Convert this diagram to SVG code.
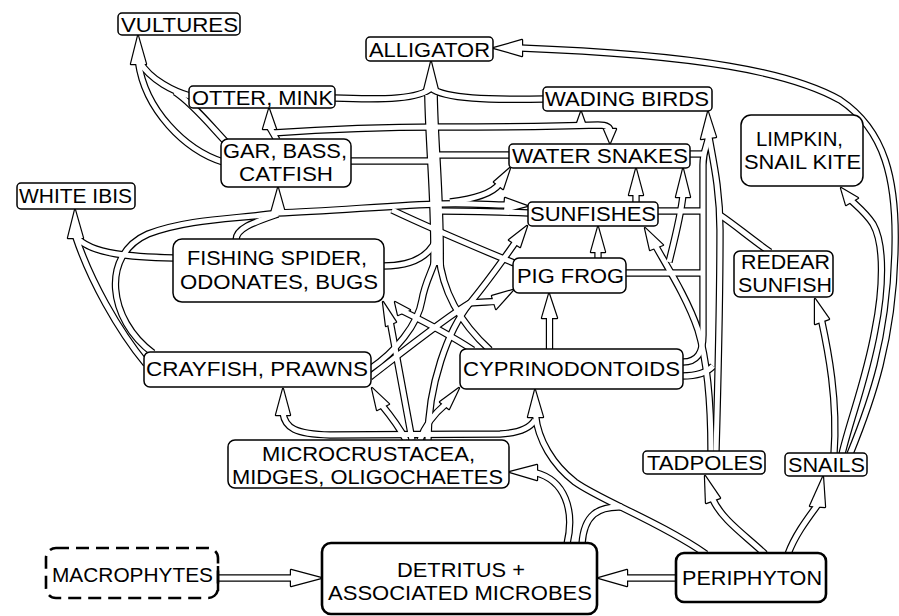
<svg xmlns="http://www.w3.org/2000/svg" xmlns:xlink="http://www.w3.org/1999/xlink" width="899" height="616" viewBox="0 0 899 616">
<style>
text{font-family:"Liberation Sans",Arial,Helvetica,sans-serif;font-size:20.5px;fill:#000}
.n rect{fill:#fff;stroke:#000;stroke-width:1.5}
.n.k rect{stroke-width:2.6}
.n.d rect{stroke-width:2.6;stroke-dasharray:13 7}
#connectors{fill:none}
.ol use{stroke:#000;stroke-width:7.4}
.ol use.w{stroke-width:13.8}
.fl use{stroke:#fff;stroke-width:5}
.fl use.w{stroke-width:11.4}
.ao use{fill:#000;stroke:#000;stroke-width:2.4;stroke-linejoin:round}
.af use{fill:#fff;stroke:none}
</style>
<defs>
<path id="c1" d="M223,162 C185,150 145,110 138.4,62"/>
<path id="c2" d="M190,96 C175,92 150,80 140,62"/>
<path id="c3" d="M226,142 C210,125 192,103 175,92"/>
<path id="c4" d="M334,98 C385,100 420,99 431,88"/>
<path id="c5" d="M544,99 C490,100 445,99 431,88"/>
<path id="c6" d="M431,95 C432,150 438,200 437,265"/>
<path id="c7" d="M350,161 L432,161"/>
<path id="c8" d="M510,155 L436,155"/>
<path id="c9" d="M277,140 L269.5,127"/>
<path id="c10" d="M272,133 C330,129 400,127 440,127 C520,127 570,126 598,125 C606,125 610,127 610,131"/>
<path id="c10b" d="M581,127 L581,124"/>
<path id="c11" d="M153,353 C108,320 100,255 148,234 C190,218 240,219 278,213"/>
<path id="c12" d="M236,240 C236,228 255,222 278,214"/>
<path id="c13" d="M278,213 C330,211 400,205 440,204 C470,203 490,205 506.5,205"/>
<path id="c14" d="M450,202 C475,199 492,194 499.6,183.8"/>
<path id="c15" d="M529,213 C500,212 470,211 440,211"/>
<path id="c16" d="M174,258 C135,257 90,255 75.5,236"/>
<path id="c17" d="M146,364 C118,330 90,280 75.5,236"/>
<path id="c18" d="M514,263 C480,249 430,228 392,210"/>
<path id="c19" d="M383,266 C410,266 428,258 436,240"/>
<path id="c20" d="M370,369 C395,352 418,325 422,300 C425,282 432,272 437,255"/>
<path id="c21" d="M370,377 C405,350 445,318 470,303"/>
<path id="c22" d="M470,303 C485,285 503,260 515.7,241.9"/>
<path id="c23" d="M470,303 C480,302 488,302 495.7,301.4"/>
<path id="c24" d="M428,440 C428,385 448,330 470,303"/>
<path id="c25" d="M412,440 C405,400 397,360 390.3,322.1"/>
<path id="c26" d="M406,440 C398,425 390,415 382,405.3"/>
<path id="c27" d="M420,440 C425,425 435,413 445.8,404"/>
<path id="c28" d="M473,350 C450,335 425,322 402.7,311"/>
<path id="c29" d="M490,350 C468,330 443,300 439,255"/>
<path id="c30" d="M549.5,350 L549.5,316"/>
<path id="c31" d="M598,259 L598,250"/>
<path id="c32" d="M636,203 L636,193"/>
<path id="c33" d="M683,362 C698,362 703,352 703,335 L703,165 C703,150 708,145 708.5,136"/>
<path id="c34" d="M625,273 L703,273"/>
<path id="c35" d="M657,211 L703,211"/>
<path id="c36" d="M689,154 L703,154"/>
<path id="c37" d="M716,452 C718,380 720,300 720,230 C720,190 713,160 709,137"/>
<path id="c38" d="M770,252 C750,238 735,225 720,215"/>
<path id="c39" d="M711,452 C711,400 707,360 698,330 C688,300 668,268 655.5,245.8"/>
<path id="c40" d="M669,262 C675,238 681,215 683,195"/>
<path id="c41" d="M682,376 C695,376 706,374 713,366"/>
<path id="c42" d="M788,554 C795,535 808,518 817.9,504.5"/>
<path id="c43" d="M765,554 C745,535 722,520 712.4,498.6"/>
<path id="c44" d="M706,554 C660,522 600,500 575,482 C553,465 538,440 535.5,415"/>
<path id="c45" d="M582,544 C584,515 598,506 622,507"/>
<path id="c46" d="M567,544 C575,510 565,480 535,472.5"/>
<path id="c47" d="M283,413 C285,428 295,434 330,435 L500,434 C520,433 530,428 535,420"/>
<path id="c48" d="M218,578 L293,578"/>
<path id="c49" d="M677,578 L625,578"/>
<path id="c50" d="M834,454 C838,400 828,350 821.4,319.6"/>
<path id="c51" d="M842,454 C850,420 866,380 875,330 C883,290 885,245 873,224 C866,213 857,206 850.7,200"/>
<path id="c52" d="M850,454 C872,400 893,340 895,250 C897,180 885,130 840,100 C790,72 700,55 520,48"/>
<polygon id="a1" points="138,36 131,64 146,64"/>
<polygon id="a2" points="431,62 424,90 438,90"/>
<polygon id="a3" points="494,48 522,40 522,56"/>
<polygon id="a4" points="269,109 263,129 276,129"/>
<polygon id="a5" points="278,188 271,213 285,213"/>
<polygon id="a6" points="75,210 68,238 83,238"/>
<polygon id="a7" points="510,168 494,182 503,189"/>
<polygon id="a8" points="527,206 505,198 504,212"/>
<polygon id="a9" points="636,169 629,195 643,195"/>
<polygon id="a10" points="598,227 591,252 605,252"/>
<polygon id="a11" points="683,169 676,197 690,197"/>
<polygon id="a12" points="708,112 701,139 716,137"/>
<polygon id="a13" points="581,112 576,126 586,126"/>
<polygon id="a14" points="610,143 604,129 616,129"/>
<polygon id="a15" points="841,188 846,205 858,198"/>
<polygon id="a16" points="645,228 650,250 663,245"/>
<polygon id="a17" points="815,299 815,324 829,319"/>
<polygon id="a18" points="513,290 492,296 496,309"/>
<polygon id="a19" points="527,226 509,240 520,247"/>
<polygon id="a20" points="395,302 398,315 410,310"/>
<polygon id="a21" points="383,302 386,326 396,322"/>
<polygon id="a22" points="372,388 377,410 389,404"/>
<polygon id="a23" points="283,389 276,415 290,415"/>
<polygon id="a24" points="535,390 528,417 543,417"/>
<polygon id="a25" points="510,472 537,465 537,480"/>
<polygon id="a26" points="705,476 706,503 720,498"/>
<polygon id="a27" points="823,477 810,506 825,507"/>
<polygon id="a28" points="599,578 627,570 627,586"/>
<polygon id="a29" points="321,578 291,570 291,586"/>
<polygon id="a31" points="549,294 542,318 557,318"/>
<polygon id="a33" points="459,388 440,402 449,409"/>
</defs>

<g id="connectors">
<g class="ol">
<use href="#c1"/><use href="#c2"/><use href="#c3"/><use href="#c4"/><use href="#c5"/><use href="#c6" class="w"/><use href="#c7"/><use href="#c8"/><use href="#c9"/><use href="#c10"/><use href="#c10b"/><use href="#c11"/><use href="#c12"/><use href="#c13"/><use href="#c14"/><use href="#c15"/><use href="#c16"/><use href="#c17"/><use href="#c18"/><use href="#c19"/><use href="#c20"/><use href="#c21"/><use href="#c22"/><use href="#c23"/><use href="#c24"/><use href="#c25"/><use href="#c26"/><use href="#c27"/><use href="#c28"/><use href="#c29"/><use href="#c30"/><use href="#c31"/><use href="#c32"/><use href="#c33"/><use href="#c34"/><use href="#c35"/><use href="#c36"/><use href="#c37"/><use href="#c38"/><use href="#c39"/><use href="#c40"/><use href="#c41"/><use href="#c42"/><use href="#c43"/><use href="#c44"/><use href="#c45"/><use href="#c46"/><use href="#c47"/><use href="#c48"/><use href="#c49"/><use href="#c50"/><use href="#c51"/><use href="#c52"/>
</g>
<g class="ao">
<use href="#a1"/><use href="#a2"/><use href="#a3"/><use href="#a4"/><use href="#a5"/><use href="#a6"/><use href="#a7"/><use href="#a8"/><use href="#a9"/><use href="#a10"/><use href="#a11"/><use href="#a12"/><use href="#a13"/><use href="#a14"/><use href="#a15"/><use href="#a16"/><use href="#a17"/><use href="#a18"/><use href="#a19"/><use href="#a20"/><use href="#a21"/><use href="#a22"/><use href="#a23"/><use href="#a24"/><use href="#a25"/><use href="#a26"/><use href="#a27"/><use href="#a28"/><use href="#a29"/><use href="#a31"/><use href="#a33"/>
</g>
<g class="fl">
<use href="#c1"/><use href="#c2"/><use href="#c3"/><use href="#c4"/><use href="#c5"/><use href="#c6" class="w"/><use href="#c7"/><use href="#c8"/><use href="#c9"/><use href="#c10"/><use href="#c10b"/><use href="#c11"/><use href="#c12"/><use href="#c13"/><use href="#c14"/><use href="#c15"/><use href="#c16"/><use href="#c17"/><use href="#c18"/><use href="#c19"/><use href="#c20"/><use href="#c21"/><use href="#c22"/><use href="#c23"/><use href="#c24"/><use href="#c25"/><use href="#c26"/><use href="#c27"/><use href="#c28"/><use href="#c29"/><use href="#c30"/><use href="#c31"/><use href="#c32"/><use href="#c33"/><use href="#c34"/><use href="#c35"/><use href="#c36"/><use href="#c37"/><use href="#c38"/><use href="#c39"/><use href="#c40"/><use href="#c41"/><use href="#c42"/><use href="#c43"/><use href="#c44"/><use href="#c45"/><use href="#c46"/><use href="#c47"/><use href="#c48"/><use href="#c49"/><use href="#c50"/><use href="#c51"/><use href="#c52"/>
</g>
<g class="af">
<use href="#a1"/><use href="#a2"/><use href="#a3"/><use href="#a4"/><use href="#a5"/><use href="#a6"/><use href="#a7"/><use href="#a8"/><use href="#a9"/><use href="#a10"/><use href="#a11"/><use href="#a12"/><use href="#a13"/><use href="#a14"/><use href="#a15"/><use href="#a16"/><use href="#a17"/><use href="#a18"/><use href="#a19"/><use href="#a20"/><use href="#a21"/><use href="#a22"/><use href="#a23"/><use href="#a24"/><use href="#a25"/><use href="#a26"/><use href="#a27"/><use href="#a28"/><use href="#a29"/><use href="#a31"/><use href="#a33"/>
</g>
</g>

<g id="vultures" class="n"><rect x="118" y="13" width="122" height="22" rx="4"/><text x="121" y="32" textLength="117" lengthAdjust="spacingAndGlyphs">VULTURES</text></g>
<g id="alligator" class="n"><rect x="366" y="37" width="127" height="24" rx="4"/><text x="369" y="57" textLength="121" lengthAdjust="spacingAndGlyphs">ALLIGATOR</text></g>
<g id="otter-mink" class="n"><rect x="189" y="86" width="146" height="22" rx="4"/><text x="192" y="105" textLength="141" lengthAdjust="spacingAndGlyphs">OTTER, MINK</text></g>
<g id="wading-birds" class="n"><rect x="543" y="87" width="169" height="24" rx="4"/><text x="545" y="106" textLength="164" lengthAdjust="spacingAndGlyphs">WADING BIRDS</text></g>
<g id="gar-bass-catfish" class="n"><rect x="221" y="139" width="130" height="48" rx="7"/><text x="223" y="158" textLength="124" lengthAdjust="spacingAndGlyphs">GAR, BASS,</text><text x="239" y="181" textLength="94" lengthAdjust="spacingAndGlyphs">CATFISH</text></g>
<g id="water-snakes" class="n"><rect x="509" y="144" width="181" height="24" rx="4"/><text x="512" y="163" textLength="176" lengthAdjust="spacingAndGlyphs">WATER SNAKES</text></g>
<g id="limpkin-snail-kite" class="n"><rect x="741" y="115" width="122" height="71" rx="10"/><text x="756" y="146" textLength="87" lengthAdjust="spacingAndGlyphs">LIMPKIN,</text><text x="744" y="169" textLength="117" lengthAdjust="spacingAndGlyphs">SNAIL KITE</text></g>
<g id="white-ibis" class="n"><rect x="17" y="183" width="118" height="26" rx="4"/><text x="19" y="203" textLength="113" lengthAdjust="spacingAndGlyphs">WHITE IBIS</text></g>
<g id="sunfishes" class="n"><rect x="528" y="202" width="130" height="24" rx="4"/><text x="530" y="221" textLength="126" lengthAdjust="spacingAndGlyphs">SUNFISHES</text></g>
<g id="fishing-spider" class="n"><rect x="173" y="239" width="211" height="63" rx="9"/><text x="187" y="265" textLength="180" lengthAdjust="spacingAndGlyphs">FISHING SPIDER,</text><text x="180" y="289" textLength="198" lengthAdjust="spacingAndGlyphs">ODONATES, BUGS</text></g>
<g id="pig-frog" class="n"><rect x="513" y="258" width="113" height="35" rx="6"/><text x="517" y="283" textLength="107" lengthAdjust="spacingAndGlyphs">PIG FROG</text></g>
<g id="redear-sunfish" class="n"><rect x="734" y="251" width="99" height="46" rx="6"/><text x="741" y="269" textLength="89" lengthAdjust="spacingAndGlyphs">REDEAR</text><text x="738" y="292" textLength="94" lengthAdjust="spacingAndGlyphs">SUNFISH</text></g>
<g id="crayfish-prawns" class="n"><rect x="144" y="352" width="227" height="35" rx="6"/><text x="146" y="376" textLength="222" lengthAdjust="spacingAndGlyphs">CRAYFISH, PRAWNS</text></g>
<g id="cyprinodontoids" class="n"><rect x="460" y="349" width="223" height="40" rx="6"/><text x="463" y="376" textLength="217" lengthAdjust="spacingAndGlyphs">CYPRINODONTOIDS</text></g>
<g id="microcrustacea" class="n"><rect x="228" y="440" width="281" height="48" rx="7"/><text x="262" y="461" textLength="213" lengthAdjust="spacingAndGlyphs">MICROCRUSTACEA,</text><text x="232" y="484" textLength="271" lengthAdjust="spacingAndGlyphs">MIDGES, OLIGOCHAETES</text></g>
<g id="tadpoles" class="n"><rect x="643" y="451" width="122" height="23" rx="4"/><text x="647" y="470" textLength="116" lengthAdjust="spacingAndGlyphs">TADPOLES</text></g>
<g id="snails" class="n"><rect x="785" y="453" width="82" height="23" rx="4"/><text x="788" y="472" textLength="77" lengthAdjust="spacingAndGlyphs">SNAILS</text></g>
<g id="macrophytes" class="n d"><rect x="46" y="548" width="172" height="50" rx="10"/><line x1="218" y1="566" x2="218" y2="591" stroke="#000" stroke-width="2.5"/><text x="52" y="582" textLength="161" lengthAdjust="spacingAndGlyphs">MACROPHYTES</text></g>
<g id="detritus" class="n k"><rect x="322" y="543" width="275" height="71" rx="9"/><text x="397" y="577" textLength="128" lengthAdjust="spacingAndGlyphs">DETRITUS +</text><text x="328" y="600" textLength="264" lengthAdjust="spacingAndGlyphs">ASSOCIATED MICROBES</text></g>
<g id="periphyton" class="n k"><rect x="676" y="553" width="150" height="49" rx="8"/><text x="682" y="585" textLength="140" lengthAdjust="spacingAndGlyphs">PERIPHYTON</text></g>
</svg>
